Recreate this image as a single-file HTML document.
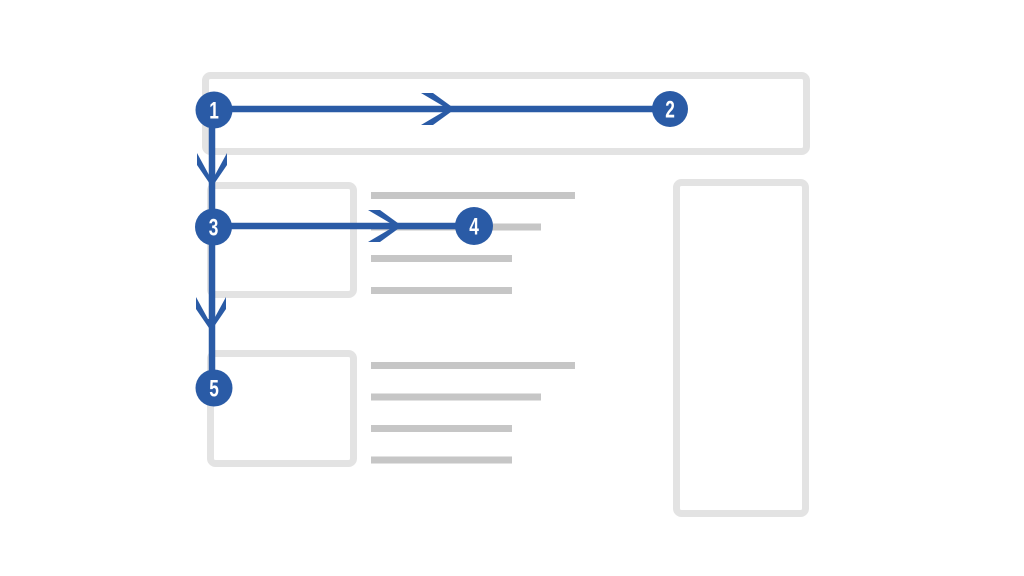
<!DOCTYPE html>
<html><head><meta charset="utf-8"><style>
html,body{margin:0;padding:0;background:#fff;}
svg{display:block;}
</style></head><body>
<svg width="1024" height="576" viewBox="0 0 1024 576" xmlns="http://www.w3.org/2000/svg">
<rect width="1024" height="576" fill="#fff"/>
<g fill="none" stroke="#e3e3e3" stroke-width="7">
  <rect x="205.5" y="75.5" width="601" height="76" rx="5"/>
  <rect x="676.5" y="182.5" width="129" height="331" rx="5"/>
  <rect x="210.5" y="185.5" width="143" height="109" rx="5"/>
  <rect x="210.5" y="353.5" width="143" height="110" rx="5"/>
</g>
<g stroke="#c6c6c6" stroke-width="7">
  <line x1="371" y1="195.5" x2="575" y2="195.5"/>
  <line x1="371" y1="227" x2="541" y2="227"/>
  <line x1="371" y1="258.5" x2="512" y2="258.5"/>
  <line x1="371" y1="290.5" x2="512" y2="290.5"/>
  <line x1="371" y1="365.5" x2="575" y2="365.5"/>
  <line x1="371" y1="397" x2="541" y2="397"/>
  <line x1="371" y1="428.5" x2="512" y2="428.5"/>
  <line x1="371" y1="460" x2="512" y2="460"/>
</g>
<g stroke="#2a5ba6" stroke-width="6.5" fill="none">
  <line x1="214" y1="109" x2="670" y2="109"/>
  <line x1="214" y1="226" x2="474" y2="226"/>
  <line x1="212" y1="110" x2="212" y2="388"/>
</g>
<g fill="#2a5ba6">
  <!-- horizontal arrow 1, tip (455,109) -->
  <polygon points="421,93 433,93 455,109 433,125 421,125 443,112 443,106"/>
  <!-- horizontal arrow 2, tip (402,226) -->
  <polygon points="368,210 380,210 402,226 380,242 368,242 390,229 390,223"/>
  <!-- vertical arrow 1, tip (212,186) -->
  <polygon points="197,153 197,165 212,187 227,165 227,153 215,175 209,175"/>
  <!-- vertical arrow 2, tip (211,330) -->
  <polygon points="196,297 196,309 211,331 226,309 226,297 214,319 208,319"/>
  <circle cx="214" cy="110" r="18.5"/>
  <circle cx="670" cy="109" r="18"/>
  <circle cx="213.5" cy="227" r="18.5"/>
  <circle cx="474" cy="226" r="19"/>
  <circle cx="214" cy="388" r="18.5"/>
</g>
<g fill="#fff" font-family="'Liberation Sans Narrow','Liberation Sans',sans-serif" font-weight="bold" font-size="24" text-anchor="middle">
  <text transform="translate(214,118.5) scale(0.72,1)">1</text>
  <text transform="translate(670,117.5) scale(0.72,1)">2</text>
  <text transform="translate(213.5,235.5) scale(0.72,1)">3</text>
  <text transform="translate(474,234.5) scale(0.72,1)">4</text>
  <text transform="translate(214,396.5) scale(0.72,1)">5</text>
</g>
</svg>
</body></html>
